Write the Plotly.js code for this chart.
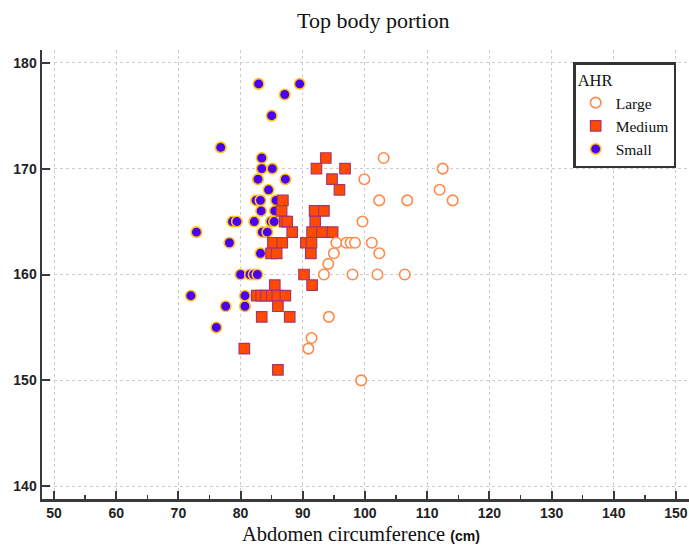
<!DOCTYPE html>
<html>
<head>
<meta charset="utf-8">
<script src="https://cdn.plot.ly/plotly-3.0.1.min.js"></script>
<style>html,body{margin:0;padding:0;background:#fff;}#chart{width:689px;height:546px;}</style>
</head>
<body>
<div id="chart"></div>
<script>
// Abdomen circumference (cm) and body height for each AHR group
const largeX  = [103.0, 112.5, 99.9, 112.0, 102.3, 106.8, 114.1, 99.6, 95.4, 97.0, 97.7, 98.4, 101.1, 95.0, 102.3, 94.1, 93.4, 98.0, 102.0, 106.4, 94.2, 91.4, 90.9, 99.4];
const largeY  = [171, 170, 169, 168, 167, 167, 167, 165, 163, 163, 163, 163, 163, 162, 162, 161, 160, 160, 160, 160, 156, 154, 153, 150];

const mediumX = [93.7, 92.2, 96.8, 94.7, 95.9, 86.8, 86.6, 91.9, 93.4, 87.1, 87.5, 92.0, 88.3, 91.5, 93.1, 94.8, 85.2, 86.7, 90.5, 91.4, 84.9, 85.8, 91.3, 90.2, 85.5, 91.5, 82.6, 83.3, 84.1, 85.0, 85.9, 87.2, 86.0, 83.4, 87.9, 80.6, 86.0];
const mediumY = [171, 170, 170, 169, 168, 167, 166, 166, 166, 165, 165, 165, 164, 164, 164, 164, 163, 163, 163, 163, 162, 162, 162, 160, 159, 159, 158, 158, 158, 158, 158, 158, 157, 156, 156, 153, 151];

const smallX  = [82.9, 89.5, 87.1, 85.0, 76.8, 83.4, 83.4, 85.1, 82.8, 87.2, 84.5, 82.5, 83.2, 85.7, 83.3, 85.5, 78.7, 79.4, 82.2, 84.9, 85.4, 72.9, 83.5, 84.3, 78.2, 83.2, 80.0, 81.5, 82.1, 82.7, 72.0, 80.7, 77.6, 80.7, 76.1];
const smallY  = [178, 178, 177, 175, 172, 171, 170, 170, 169, 169, 168, 167, 167, 167, 166, 166, 165, 165, 165, 165, 165, 164, 164, 164, 163, 162, 160, 160, 160, 160, 158, 158, 157, 157, 155];

const groupNames = ['Large', 'Medium', 'Small'];
const xTickVals = [50, 60, 70, 80, 90, 100, 110, 120, 130, 140, 150];
const yTickVals = [140, 150, 160, 170, 180];

const traces = [
  {x: smallX, y: smallY, name: groupNames[2], legendrank: 3, type: 'scatter', mode: 'markers',
   marker: {symbol: 'circle', size: 10.5, color: '#4a00f0', line: {color: '#ffc21a', width: 1.6}}},
  {x: mediumX, y: mediumY, name: groupNames[1], legendrank: 2, type: 'scatter', mode: 'markers',
   marker: {symbol: 'square', size: 10.5, color: '#ff4a00', line: {color: '#a8366e', width: 1.2}}},
  {x: largeX, y: largeY, name: groupNames[0], legendrank: 1, type: 'scatter', mode: 'markers',
   marker: {symbol: 'circle', size: 10.5, color: '#ffffff', line: {color: '#ff8a4a', width: 1.6}}}
];

const axisCommon = {
  showline: true, linecolor: '#3a3a3a', linewidth: 2.5, mirror: false,
  ticks: 'inside', ticklen: 8, tickwidth: 2, tickcolor: '#3a3a3a',
  showgrid: true, gridcolor: '#cccccc', griddash: 'dot', gridwidth: 1,
  zeroline: false, fixedrange: true, ticklabeloverflow: 'allow',
  tickfont: {family: 'Liberation Sans, Arial, sans-serif', size: 14, color: '#222', weight: 'bold'}
};

const layout = {
  width: 689, height: 546,
  margin: {l: 42, r: 0, t: 50, b: 47},
  paper_bgcolor: '#ffffff', plot_bgcolor: '#ffffff',
  title: {text: 'Top body portion', font: {family: 'Liberation Serif, Times New Roman, serif', size: 22, color: '#111'},
          x: 0.512, xref: 'paper', xanchor: 'center', y: 0.962, yref: 'container', yanchor: 'middle'},
  xaxis: Object.assign({}, axisCommon, {range: [48.07, 152.1], tickvals: xTickVals,
    minor: {dtick: 5, tick0: 45, ticks: 'inside', ticklen: 4, tickwidth: 1.5, tickcolor: '#3a3a3a', showgrid: false}}),
  yaxis: Object.assign({}, axisCommon, {range: [138.8, 181.2], tickvals: yTickVals}),
  showlegend: true,
  legend: {x: 0.821, y: 0.973, xanchor: 'left', yanchor: 'top', xref: 'paper', yref: 'paper',
    bgcolor: '#ffffff', bordercolor: '#333', borderwidth: 2.5,
    font: {family: 'Liberation Serif, Times New Roman, serif', size: 15.5, color: '#111'},
    title: {text: 'AHR', side: 'top', font: {family: 'Liberation Serif, Times New Roman, serif', size: 16.5, color: '#111'}},
    itemwidth: 30, tracegroupgap: 0},
  annotations: [{
    text: "Abdomen circumference <span style='font-family:Liberation Sans, Arial, sans-serif;font-size:14px;font-weight:bold'>(cm)</span>",
    xref: 'paper', yref: 'paper', x: 0.493, y: -0.078, xanchor: 'center', yanchor: 'middle', showarrow: false,
    font: {family: 'Liberation Serif, Times New Roman, serif', size: 20.5, color: '#111'}
  }]
};

Plotly.newPlot('chart', traces, layout, {displayModeBar: false, staticPlot: true});
</script>
</body>
</html>
